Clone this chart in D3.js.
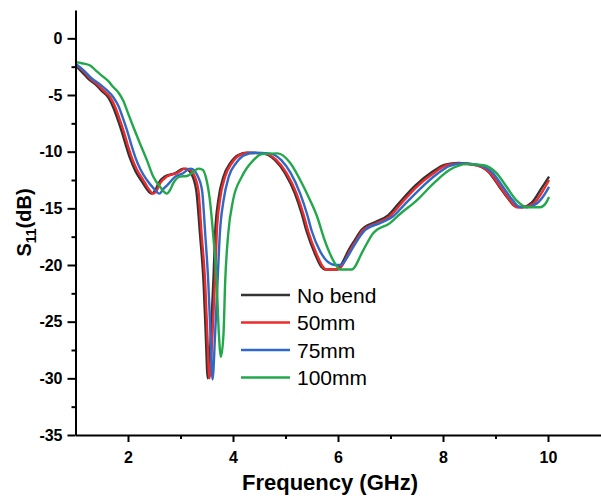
<!DOCTYPE html>
<html>
<head>
<meta charset="utf-8">
<script src="https://cdn.jsdelivr.net/npm/d3@7"></script>
<style>
  body { margin: 0; background: #fff; }
  svg { display: block; font-family: "Liberation Sans", Arial, sans-serif; }
</style>
</head>
<body>
<div id="chart"></div>
<script>
// S11 traces, [frequency GHz, dB]
var noBend = [[1.0,-2.4],[1.13,-3.0],[1.26,-3.65],[1.38,-4.05],[1.5,-4.65],[1.63,-5.25],[1.72,-6.1],[1.8,-7.1],[1.88,-8.2],[1.97,-9.6],[2.04,-10.6],[2.14,-11.7],[2.26,-12.6],[2.35,-13.25],[2.45,-13.7],[2.52,-13.4],[2.58,-12.8],[2.7,-12.2],[2.9,-11.9],[3.05,-11.5],[3.14,-11.6],[3.2,-11.9],[3.3,-13.4],[3.37,-17.2],[3.44,-21.6],[3.48,-26.0],[3.52,-30.0],[3.58,-26.0],[3.63,-21.0],[3.66,-17.2],[3.72,-14.3],[3.82,-12.2],[3.95,-11.0],[4.1,-10.3],[4.27,-10.1],[4.55,-10.15],[4.8,-10.75],[4.99,-11.9],[5.18,-13.7],[5.31,-15.5],[5.4,-17.0],[5.56,-19.0],[5.69,-20.2],[5.75,-20.4],[5.97,-20.4],[6.07,-19.9],[6.2,-18.7],[6.32,-17.8],[6.45,-16.9],[6.71,-16.2],[6.96,-15.6],[7.15,-14.6],[7.47,-13.0],[7.79,-11.8],[8.04,-11.15],[8.29,-11.0],[8.61,-11.15],[8.87,-11.8],[9.06,-13.0],[9.25,-14.2],[9.37,-14.8],[9.5,-14.9],[9.69,-14.5],[9.88,-13.2],[10.02,-12.2]];

var bend50 = [[1.0,-2.3],[1.15,-2.9],[1.28,-3.55],[1.4,-4.0],[1.53,-4.6],[1.66,-5.2],[1.75,-6.0],[1.83,-7.0],[1.91,-8.1],[2.0,-9.5],[2.07,-10.5],[2.17,-11.6],[2.29,-12.5],[2.38,-13.2],[2.48,-13.7],[2.55,-13.4],[2.61,-12.8],[2.74,-12.2],[2.93,-11.9],[3.09,-11.5],[3.18,-11.6],[3.24,-11.9],[3.34,-13.4],[3.4,-17.2],[3.47,-21.6],[3.51,-26.0],[3.55,-30.0],[3.61,-26.0],[3.66,-21.0],[3.69,-17.2],[3.75,-14.3],[3.85,-12.2],[3.98,-11.0],[4.13,-10.3],[4.3,-10.1],[4.58,-10.15],[4.83,-10.75],[5.02,-11.9],[5.21,-13.7],[5.34,-15.5],[5.43,-17.0],[5.59,-19.0],[5.72,-20.2],[5.78,-20.4],[6.0,-20.4],[6.1,-19.9],[6.23,-18.7],[6.35,-17.8],[6.48,-16.9],[6.74,-16.3],[6.99,-15.7],[7.18,-14.7],[7.5,-13.1],[7.82,-11.9],[8.07,-11.2],[8.32,-11.05],[8.64,-11.2],[8.9,-11.9],[9.09,-13.1],[9.28,-14.3],[9.4,-14.9],[9.53,-14.9],[9.72,-14.6],[9.91,-13.4],[10.02,-12.5]];

var bend75 = [[1.0,-2.25],[1.15,-2.8],[1.3,-3.5],[1.45,-4.0],[1.6,-4.6],[1.72,-5.2],[1.82,-6.0],[1.9,-7.0],[1.98,-8.1],[2.07,-9.5],[2.14,-10.5],[2.24,-11.6],[2.36,-12.5],[2.48,-13.2],[2.6,-13.7],[2.67,-13.3],[2.74,-13.0],[2.9,-12.2],[3.05,-11.9],[3.18,-11.5],[3.25,-11.6],[3.31,-12.0],[3.41,-13.4],[3.47,-17.2],[3.53,-21.6],[3.57,-26.0],[3.61,-30.1],[3.66,-26.0],[3.71,-21.0],[3.75,-17.2],[3.82,-14.3],[3.92,-12.2],[4.06,-11.0],[4.22,-10.3],[4.42,-10.1],[4.68,-10.15],[4.92,-10.75],[5.1,-11.9],[5.28,-13.7],[5.41,-15.5],[5.5,-17.0],[5.66,-18.8],[5.8,-19.7],[5.95,-20.0],[6.05,-20.0],[6.15,-19.5],[6.28,-18.5],[6.4,-17.6],[6.52,-16.9],[6.8,-16.3],[7.05,-15.7],[7.24,-14.8],[7.56,-13.3],[7.88,-12.0],[8.13,-11.25],[8.38,-11.05],[8.7,-11.2],[8.95,-11.9],[9.14,-13.1],[9.33,-14.3],[9.45,-14.85],[9.6,-14.9],[9.78,-14.6],[9.93,-13.8],[10.02,-13.1]];

var bend100 = [[1.0,-2.1],[1.12,-2.2],[1.28,-2.4],[1.4,-2.9],[1.53,-3.4],[1.63,-3.8],[1.72,-4.3],[1.82,-4.8],[1.91,-5.5],[2.0,-6.6],[2.1,-7.8],[2.23,-9.3],[2.36,-10.75],[2.48,-12.2],[2.61,-13.1],[2.74,-13.7],[2.8,-13.4],[2.86,-12.8],[2.99,-12.2],[3.12,-12.15],[3.24,-11.8],[3.34,-11.5],[3.42,-11.6],[3.48,-12.2],[3.56,-14.3],[3.62,-17.2],[3.69,-21.6],[3.73,-26.0],[3.77,-28.1],[3.82,-26.0],[3.85,-21.6],[3.91,-17.2],[4.0,-14.3],[4.17,-12.2],[4.39,-10.75],[4.55,-10.2],[4.85,-10.15],[5.09,-11.0],[5.28,-12.5],[5.47,-14.3],[5.6,-15.7],[5.73,-17.6],[5.91,-19.6],[6.04,-20.4],[6.26,-20.4],[6.48,-18.7],[6.67,-17.2],[6.99,-16.3],[7.18,-15.5],[7.5,-14.3],[7.82,-12.8],[8.13,-11.6],[8.45,-11.1],[8.77,-11.2],[9.02,-11.9],[9.21,-13.1],[9.4,-14.3],[9.59,-14.9],[9.85,-14.9],[9.95,-14.6],[10.02,-14.0]];

var seriesNames = ['No bend', '50mm', '75mm', '100mm'];
var seriesColors = ['#333333', '#ee2a2a', '#3068c8', '#22a84a'];
var seriesData = [noBend, bend50, bend75, bend100];

var xMajorTicks = [2, 4, 6, 8, 10];
var xMinorTicks = [3, 5, 7, 9];
var yMajorTicks = [0, -5, -10, -15, -20, -25, -30, -35];
var yMinorTicks = [-2.5, -7.5, -12.5, -17.5, -22.5, -27.5, -32.5];

function draw() {
    var width = 601, height = 498;
    var margin = {top: 10, right: 0.5, bottom: 63, left: 75.5};

    var svg = d3.select('#chart')
        .append('svg')
        .attr('width', width)
        .attr('height', height);

    var x = d3.scaleLinear().domain([1, 11]).range([margin.left, width - margin.right]);
    var y = d3.scaleLinear().domain([-35, 2.5]).range([height - margin.bottom, margin.top]);

    // traces
    var line = d3.line()
        .x(d => x(d[0]))
        .y(d => y(d[1]))
        .curve(d3.curveMonotoneX);

    svg.append('g')
        .selectAll('path')
        .data(seriesData)
        .enter()
        .append('path')
        .attr('d', line)
        .attr('fill', 'none')
        .attr('stroke', (d, i) => seriesColors[i])
        .attr('stroke-width', 2.4)
        .attr('stroke-linejoin', 'round');

    // minor ticks
    svg.append('g')
        .attr('transform', `translate(0, ${height - margin.bottom})`)
        .call(d3.axisBottom(x).tickValues(xMinorTicks).tickSize(4).tickSizeOuter(0).tickFormat(''))
        .call(g => g.select('.domain').remove())
        .call(g => g.selectAll('line').attr('stroke-width', 2));

    svg.append('g')
        .attr('transform', `translate(${margin.left}, 0)`)
        .call(d3.axisLeft(y).tickValues(yMinorTicks).tickSize(4).tickSizeOuter(0).tickFormat(''))
        .call(g => g.select('.domain').remove())
        .call(g => g.selectAll('line').attr('stroke-width', 2));

    // major axes, plain hyphen for negatives
    var xAxis = svg.append('g')
        .attr('transform', `translate(0, ${height - margin.bottom})`)
        .call(d3.axisBottom(x).tickValues(xMajorTicks).tickSize(7).tickPadding(10).tickSizeOuter(0)
            .tickFormat(d => String(d)));

    var yAxis = svg.append('g')
        .attr('transform', `translate(${margin.left}, 0)`)
        .call(d3.axisLeft(y).tickValues(yMajorTicks).tickSize(8).tickPadding(5).tickSizeOuter(0)
            .tickFormat(d => String(d)));

    [xAxis, yAxis].forEach(function (g) {
        g.select('.domain').attr('stroke-width', 2);
        g.selectAll('.tick line').attr('stroke-width', 2);
        g.selectAll('.tick text')
            .style('font-family', '"Liberation Sans", Arial, sans-serif')
            .style('font-size', '16px')
            .style('font-weight', 700)
            .attr('fill', '#000');
    });

    // axis titles
    svg.append('text')
        .attr('x', 330)
        .attr('y', 490)
        .style('text-anchor', 'middle')
        .style('font-size', '22px')
        .style('font-weight', 700)
        .text('Frequency (GHz)');

    var yTitle = svg.append('text')
        .attr('transform', `translate(31, ${(margin.top + height - margin.bottom) / 2}) rotate(-90)`)
        .style('text-anchor', 'middle')
        .style('font-size', '20px')
        .style('font-weight', 700);
    yTitle.append('tspan').text('S');
    yTitle.append('tspan').attr('dy', 5).style('font-size', '14px').text('11');
    yTitle.append('tspan').attr('dy', -5).text('(dB)');

    // legend
    var legend = svg.append('g');
    var rows = legend.selectAll('g')
        .data(seriesNames)
        .enter()
        .append('g')
        .attr('transform', (d, i) => `translate(241, ${295 + i * 27.5})`);

    rows.append('line')
        .attr('x1', 0)
        .attr('x2', 49)
        .attr('stroke', (d, i) => seriesColors[i])
        .attr('stroke-width', 2.6);

    rows.append('text')
        .attr('x', 56)
        .attr('y', 7.5)
        .style('font-size', '21px')
        .text(d => d);
}

draw();
</script>
</body>
</html>
